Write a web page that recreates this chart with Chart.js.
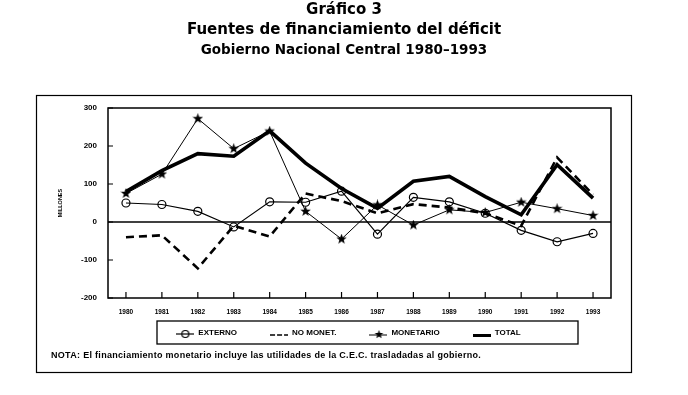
<!DOCTYPE html>
<html>
<head>
<meta charset="utf-8">
<script src="https://cdn.jsdelivr.net/npm/chart.js@4.4.1/dist/chart.umd.min.js"></script>
<style>
  html, body { margin: 0; padding: 0; background: #fff; }
</style>
</head>
<body>
<canvas id="grafico" width="688" height="395"></canvas>
<script>
// datos (millones)
const years = ['1980','1981','1982','1983','1984','1985','1986','1987','1988','1989','1990','1991','1992','1993'];
const externo   = [50, 46, 28, -13, 53, 52, 81, -32, 65, 53, 23, -22, -52, -30];
const noMonet   = [-40, -35, -122, -10, -38, 75, 55, 23, 47, 38, 23, -10, 170, 72];
const monetario = [75, 126, 272, 193, 239, 28, -45, 45, -8, 32, 25, 52, 35, 17];
const total     = [80, 135, 180, 173, 240, 155, 88, 36, 107, 120, 67, 19, 151, 63];
const seriesNames = ['EXTERNO', 'NO MONET.', 'MONETARIO', 'TOTAL'];
const yTicks = [-200, -100, 0, 100, 200, 300];

Chart.defaults.color = '#000';
Chart.defaults.font.family = 'Liberation Sans';
Chart.defaults.font.weight = 'bold';

function starCanvas(size) {
  const c = document.createElement('canvas');
  c.width = c.height = size;
  const g = c.getContext('2d');
  const R = size / 2, r = R * 0.42;
  g.beginPath();
  for (let k = 0; k < 10; k++) {
    const a = -Math.PI / 2 + k * Math.PI / 5;
    const rr = k % 2 ? r : R;
    g.lineTo(R + rr * Math.cos(a), R + rr * Math.sin(a));
  }
  g.closePath();
  g.fillStyle = '#000';
  g.fill();
  return c;
}

function legendIcon(kind) {
  const c = document.createElement('canvas');
  c.width = 18; c.height = 12;
  const g = c.getContext('2d');
  g.strokeStyle = '#000';
  if (kind === 0) {
    g.lineWidth = 1.2;
    g.beginPath(); g.moveTo(0, 7); g.lineTo(18, 7); g.stroke();
    g.beginPath(); g.arc(9, 7, 3.5, 0, Math.PI * 2); g.stroke();
  } else if (kind === 1) {
    g.lineWidth = 1.6;
    g.setLineDash([5, 2]);
    g.beginPath(); g.moveTo(0, 8); g.lineTo(18, 8); g.stroke();
  } else if (kind === 2) {
    g.lineWidth = 1;
    g.beginPath(); g.moveTo(0, 8); g.lineTo(18, 8); g.stroke();
    g.drawImage(starCanvas(9), 5, 3);
  } else {
    g.lineWidth = 3;
    g.beginPath(); g.moveTo(0, 8.5); g.lineTo(18, 8.5); g.stroke();
  }
  return c;
}

const star = starCanvas(11);
const icons = [0, 1, 2, 3].map(legendIcon);

const decoracion = {
  id: 'decoracion',
  afterLayout(chart) {
    chart.boxes.forEach(b => {
      if (b.options && b.options.text !== undefined && b.position === 'top') {
        b.left = 0; b.right = chart.width;
      }
    });
    const lg = chart.legend;
    const h = lg.height;
    lg.left = 0; lg.right = chart.width + 9;
    lg.top = 296; lg.bottom = lg.top + h;
  },
  beforeDraw(chart) {
    const ctx = chart.ctx;
    ctx.save();
    ctx.fillStyle = '#fff';
    ctx.fillRect(0, 0, chart.width, chart.height);
    ctx.restore();
  },
  afterDraw(chart) {
    const {ctx, chartArea: a, scales: {x, y}} = chart;
    ctx.save();
    ctx.strokeStyle = '#000';
    // marco del area
    ctx.lineWidth = 1.5;
    ctx.strokeRect(a.left, a.top, a.right - a.left, a.bottom - a.top);
    // linea de cero
    const y0 = y.getPixelForValue(0);
    ctx.lineWidth = 1.3;
    ctx.beginPath(); ctx.moveTo(a.left, y0); ctx.lineTo(a.right, y0); ctx.stroke();
    // marcas
    ctx.lineWidth = 1.2;
    ctx.beginPath();
    years.forEach((yr, i) => {
      const px = x.getPixelForTick(i);
      ctx.moveTo(px, a.bottom); ctx.lineTo(px, a.bottom - 6);
    });
    yTicks.forEach(v => {
      const py = y.getPixelForValue(v);
      ctx.moveTo(a.left, py); ctx.lineTo(a.left + 5, py);
    });
    ctx.stroke();
    // recuadro de leyenda
    ctx.lineWidth = 1.3;
    ctx.strokeRect(157, 321, 421, 23);
    // marco exterior
    ctx.lineWidth = 1.2;
    ctx.strokeRect(36.5, 95.5, 595, 277);
    // nota
    ctx.fillStyle = '#000';
    ctx.font = 'bold 9px "Liberation Sans"';
    ctx.letterSpacing = '0.3px';
    ctx.textBaseline = 'middle';
    ctx.fillText('NOTA: El financiamiento monetario incluye las utilidades de la C.E.C. trasladadas al gobierno.', 51, 356);
    ctx.restore();
  }
};

new Chart(document.getElementById('grafico'), {
  type: 'line',
  data: {
    labels: years,
    datasets: [
      { label: seriesNames[0], data: externo, borderColor: '#000', borderWidth: 1.2,
        pointStyle: 'circle', pointRadius: 4, pointBorderWidth: 1.2,
        pointBorderColor: '#000', pointBackgroundColor: 'rgba(0,0,0,0)' },
      { label: seriesNames[1], data: noMonet, borderColor: '#000', borderWidth: 2.6,
        borderDash: [8, 5], pointRadius: 0 },
      { label: seriesNames[2], data: monetario, borderColor: '#000', borderWidth: 1,
        pointStyle: star, pointRadius: 5 },
      { label: seriesNames[3], data: total, borderColor: '#000', borderWidth: 3.6,
        pointRadius: 0 }
    ]
  },
  options: {
    responsive: false,
    animation: false,
    layout: { padding: { left: 37, right: 77, top: 0, bottom: 24 } },
    plugins: {
      title: {
        display: true, text: ['Gráfico 3', 'Fuentes de financiamiento del déficit'], color: '#000',
        font: { family: 'DejaVu Sans', weight: 'bold', size: 15, lineHeight: 20 / 15 },
        padding: { top: 0, bottom: 0 }
      },
      subtitle: {
        display: true,
        text: 'Gobierno Nacional Central 1980–1993',
        color: '#000',
        font: { family: 'DejaVu Sans', weight: 'bold', size: 13.5, lineHeight: 18 / 13.5 },
        padding: { top: 1, bottom: 49 }
      },
      legend: {
        position: 'bottom',
        labels: {
          usePointStyle: true, pointStyleWidth: 18, boxHeight: 8, padding: 33,
          font: { size: 8, weight: 'bold' }, color: '#000',
          generateLabels(chart) {
            const items = Chart.defaults.plugins.legend.labels.generateLabels(chart);
            items.forEach((it, i) => { it.pointStyle = icons[i]; });
            return items;
          }
        }
      },
      tooltip: { enabled: false }
    },
    scales: {
      x: {
        offset: true,
        grid: { display: false, drawTicks: false },
        border: { display: false },
        ticks: { padding: 10, font: { size: 6.5, weight: 'bold' }, maxRotation: 0, autoSkip: false },
        afterFit(s) { s.height = 22; }
      },
      y: {
        min: -200, max: 300,
        grid: { display: false, drawTicks: false },
        border: { display: false },
        ticks: { stepSize: 100, padding: 11, font: { size: 8, weight: 'bold' } },
        title: { display: true, text: 'MILLONES', font: { size: 5.5, weight: 'bold' }, padding: { top: 20, bottom: 0 } },
        afterFit(s) { s.width = 71; }
      }
    }
  },
  plugins: [decoracion]
});
</script>
</body>
</html>
